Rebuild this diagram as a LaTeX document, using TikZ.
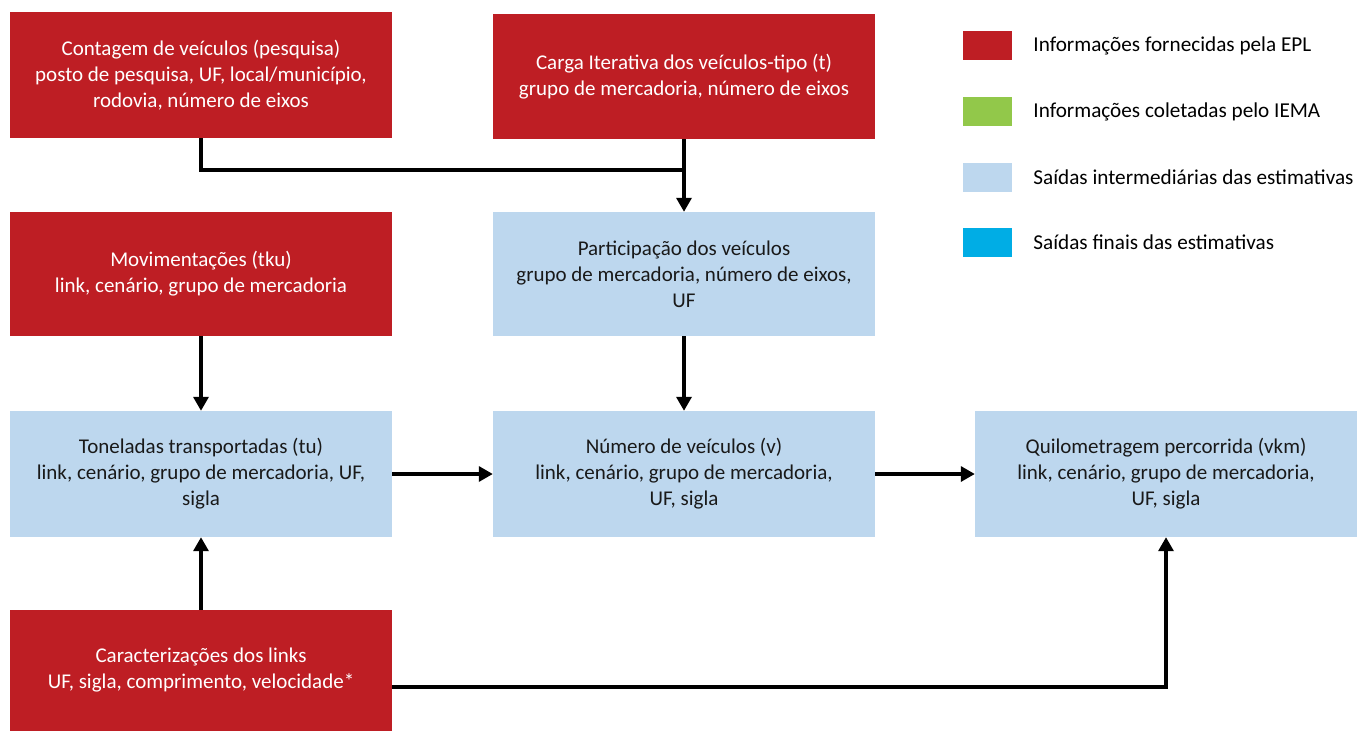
\documentclass[tikz,border=0pt]{standalone}
\usepackage{fontspec}
\setmainfont{Carlito}
\usepackage{xcolor}
\usetikzlibrary{arrows.meta, positioning}

\definecolor{eplred}{HTML}{BE1E24}
\definecolor{interblue}{HTML}{BDD7EE}
\definecolor{iemagreen}{HTML}{92C84A}
\definecolor{finalblue}{HTML}{00ADE5}

\tikzset{
  base/.style={minimum width=382pt, align=center, inner sep=0pt,
    font=\fontsize{21}{26}\selectfont},
  redbox/.style={base, fill=eplred, text=white},
  bluebox/.style={base, fill=interblue, text=black!90},
  legsq/.style={minimum width=49pt, minimum height=29pt, inner sep=0pt},
  legtxt/.style={inner sep=0pt, anchor=west, font=\fontsize{21.2}{24}\selectfont},
  conn/.style={line width=3.3pt},
}

\begin{document}
\begin{tikzpicture}[x=1pt, y=-1pt, >={Triangle[length=14pt,width=15pt]}]
    \useasboundingbox (0,0) rectangle (1357,731);
    % Caixas de entrada (EPL)
    \node[redbox, minimum height=126pt] (cont) at (201,75)
        {Contagem de veículos (pesquisa)\\posto de pesquisa, UF, local/município,\\rodovia, número de eixos};
    \node[redbox, minimum height=125pt] (carga) at (684,76.5)
        {Carga Iterativa dos veículos-tipo (t)\\grupo de mercadoria, número de eixos};
    \node[redbox, minimum height=124pt] (movi) at (201,274)
        {Movimentações (tku)\\link, cenário, grupo de mercadoria};
    \node[redbox, minimum height=121pt] (carac) at (201,670.5)
        {Caracterizações dos links\\UF, sigla, comprimento, velocidade*};
    % Saídas intermediárias
    \node[bluebox, minimum height=124pt] (part) at (684,274)
        {Participação dos veículos\\grupo de mercadoria, número de eixos,\\UF};
    \node[bluebox, minimum height=126pt] (ton) at (201,474)
        {Toneladas transportadas (tu)\\link, cenário, grupo de mercadoria, UF,\\sigla};
    \node[bluebox, minimum height=126pt] (num) at (684,474)
        {Número de veículos (v)\\link, cenário, grupo de mercadoria,\\UF, sigla};
    \node[bluebox, minimum height=126pt] (quilo) at (1166,474)
        {Quilometragem percorrida (vkm)\\link, cenário, grupo de mercadoria,\\UF, sigla};

    % Conexões
    \coordinate (junta) at (684,170);
    \coordinate (saida) at (392,687);
    \draw[conn] (cont.south) |- (junta);
    \draw[conn, ->] (carga.south) -- (part.north);
    \draw[conn, ->] (movi.south) -- (ton.north);
    \draw[conn, ->] (part.south) -- (num.north);
    \draw[conn, ->] (ton.east) -- (num.west);
    \draw[conn, ->] (num.east) -- (quilo.west);
    \draw[conn, ->] (carac.north) -- (ton.south);
    \draw[conn, ->] (saida) -| (quilo.south);

    % Legenda
    \node[legsq, fill=eplred] (leg1) at (987.5,45.5) {};
    \node[legsq, fill=iemagreen] (leg2) at (987.5,111.5) {};
    \node[legsq, fill=interblue] (leg3) at (987.5,177.5) {};
    \node[legsq, fill=finalblue] (leg4) at (987.5,242.5) {};
    \node[legtxt, right=21pt of leg1] (txt1) {Informações fornecidas pela EPL};
    \node[legtxt, right=21pt of leg2] (txt2) {Informações coletadas pelo IEMA};
    \node[legtxt, right=21pt of leg3] (txt3) {Saídas intermediárias das estimativas};
    \node[legtxt, right=21pt of leg4] (txt4) {Saídas finais das estimativas};
\end{tikzpicture}
\end{document}
